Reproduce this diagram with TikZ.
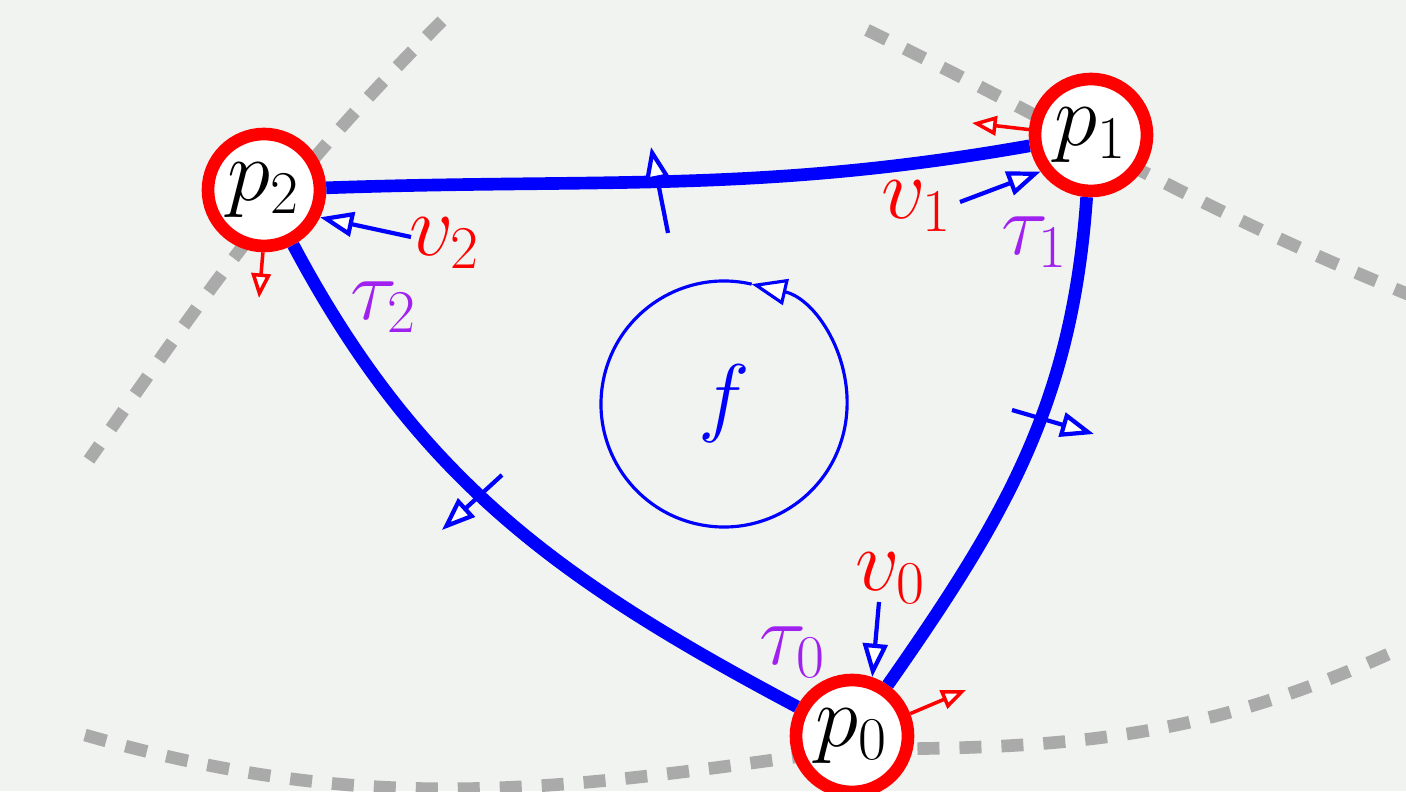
\documentclass[tikz,border=0pt]{standalone}
\usepackage{amsmath}
\usepackage{xcolor}
\usepackage{tikz}
\usetikzlibrary{arrows.meta, positioning, calc}

\definecolor{bgcell}{RGB}{241,243,240}
\definecolor{dashgray}{RGB}{170,170,170}
\definecolor{taupurple}{RGB}{160,32,240}

\begin{document}
\begin{tikzpicture}[
  font=\fontsize{23.5}{28}\selectfont,
  vertex/.style={circle, draw=red, fill=white, line width=3.6pt, minimum size=1.12cm, inner sep=0pt},
  edge/.style={blue, line width=3.6pt},
  cellline/.style={dashgray, line width=3.6pt, dash pattern=on 0.22cm off 0.2cm},
  vec/.style={blue, line width=1.2pt, -{Triangle[length=9.5pt, width=7pt, fill=white]}},
  redvec/.style={red, line width=1pt, -{Triangle[length=7pt, width=5.5pt, fill=white]}}
]
  % Background
  \fill[bgcell] (0,0) rectangle (14.06,7.91);
  \useasboundingbox (0,0) rectangle (14.06,7.91);

  % Cell boundaries
  \coordinate (A1) at (4.42,7.70);
  \coordinate (A2) at (0.89,3.31);
  \coordinate (B1) at (8.67,7.61);
  \coordinate (B2) at (14.10,4.96);
  \coordinate (C1) at (0.85,0.56);
  \coordinate (C2) at (8.52,0.42);
  \coordinate (C3) at (14.06,1.45);
  \draw[cellline] (A1) to[out=225, in=55] (A2);
  \draw[cellline] (B1) to[out=-26, in=158] (B2);
  \draw[cellline] (C1) to[out=-16, in=188] (C2) to[out=0, in=205] (C3);

  % Vertices
  \node[vertex] (p0) at (8.52,0.55) {$p_0$};
  \node[vertex] (p1) at (10.91,6.56) {$p_1$};
  \node[vertex] (p2) at (2.64,6.01) {$p_2$};

  % Edges
  \draw[edge] (p2) to[out=2, in=190] (p1);
  \draw[edge] (p1) to[out=-94, in=55] (p0);
  \draw[edge] (p0) to[out=152, in=-62] (p2);

  % Edge normals
  \coordinate (n21a) at (6.68,5.58);
  \coordinate (n21b) at (6.51,6.44);
  \coordinate (n10a) at (10.12,3.81);
  \coordinate (n10b) at (10.94,3.57);
  \coordinate (n02a) at (5.02,3.16);
  \coordinate (n02b) at (4.42,2.61);
  \draw[vec] (n21a) -- (n21b);
  \draw[vec] (n10a) -- (n10b);
  \draw[vec] (n02a) -- (n02b);

  % Face
  \node[text=blue] (f) at (7.24,3.87) {$f$};
  \draw[blue, line width=0.9pt, -{Triangle[length=10pt, width=7.5pt, fill=white]}]
    ([shift={(77:1.23)}]f.center) arc[start angle=77, end angle=437, radius=1.23];

  % Vertex vectors
  \node[red] (v0) at (8.91,2.13) {$v_0$};
  \node[red] (v1) at (9.17,5.85) {$v_1$};
  \node[red] (v2) at (4.45,5.48) {$v_2$};
  \coordinate (v0s) at (8.79,1.89);
  \coordinate (v1s) at (9.60,5.89);
  \coordinate (v2s) at (4.11,5.54);
  \draw[vec] (v0s) -- (p0.71);
  \draw[vec] (v1s) -- (p1.216);
  \draw[vec] (v2s) -- (p2.-26);

  % Tangents along cell boundaries
  \coordinate (r0) at (9.66,1.01);
  \coordinate (r1) at (9.72,6.68);
  \coordinate (r2) at (2.59,4.93);
  \draw[redvec] (p0.21) -- (r0);
  \draw[redvec] (p1.175) -- (r1);
  \draw[redvec] (p2.-91) -- (r2);

  % Labels
  \node[taupurple] (t0) at (7.93,1.39) {$\tau_0$};
  \node[taupurple] (t1) at (10.35,5.49) {$\tau_1$};
  \node[taupurple] (t2) at (3.84,4.84) {$\tau_2$};
\end{tikzpicture}
\end{document}
